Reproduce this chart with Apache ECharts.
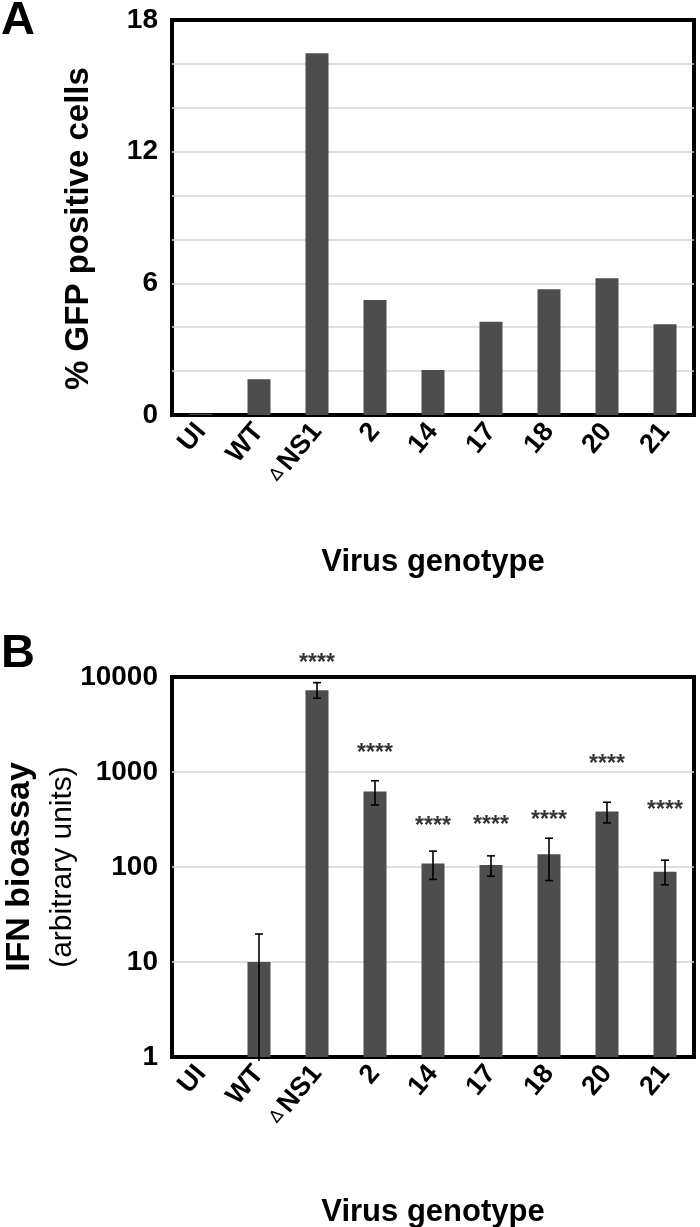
<!DOCTYPE html>
<html><head><meta charset="utf-8">
<script src="https://cdn.jsdelivr.net/npm/echarts@6/dist/echarts.min.js"></script>
<style>html,body{margin:0;padding:0;background:#fff}#c{width:700px;height:1227px}</style>
</head><body><div id="c"></div>
<script>
const categories = ['UI', 'WT', '∆ NS1', '2', '14', '17', '18', '20', '21'];
const gfpValues = [0.05, 1.63, 16.48, 5.24, 2.05, 4.25, 5.73, 6.23, 4.13];
const gfpTicks = [0, 6, 12, 18];
const ifnValues = [null, 10, 7260, 625, 109, 105, 136, 383, 89];
const ifnErrLow = [null, 1, 5980, 450, 74, 80, 72, 291, 65];
const ifnErrHigh = [null, 19.7, 8720, 809, 147, 131, 201, 480, 118];
const starText = [null, null, '****', '****', '****', '****', '****', '****', '****'];
const starPos = [null, null, 13680, 1573, 269, 275, 311, 1199, 395];

const FONT = 'Liberation Sans, Arial, Helvetica, sans-serif';
const BAR = '#4d4d4d';

function catLabel(v) {
  if (v.indexOf('∆') === 0) return '{d|∆}{s| }{b|' + v.slice(2) + '}';
  return '{b|' + v + '}';
}
const xLabelRich = {
  b: {fontFamily: FONT, fontWeight: 'bold', fontSize: 27, color: '#000'},
  s: {fontFamily: FONT, fontWeight: 'bold', fontSize: 14, color: '#000'},
  d: {fontFamily: 'DejaVu Sans', fontWeight: 'normal', fontSize: 17, color: '#000'}
};

function xAxisCfg(gridIndex, gap) {
  return {
    type: 'category', gridIndex: gridIndex, data: categories,
    axisLine: {show: false}, axisTick: {show: false},
    axisLabel: {interval: 0, rotate: 50, margin: 12, formatter: catLabel, rich: xLabelRich},
    name: 'Virus genotype', nameLocation: 'middle', nameGap: gap, nameMoveOverlap: false,
    nameTextStyle: {fontFamily: FONT, fontWeight: 'bold', fontSize: 31, color: '#000'}
  };
}

const errData = [];
const starData = [];
categories.forEach((c, i) => {
  if (ifnErrLow[i] != null) errData.push([i, ifnErrLow[i], ifnErrHigh[i]]);
  if (starText[i]) starData.push([i, starPos[i], starText[i]]);
});

const gridStyle = {show: true, borderColor: '#000', borderWidth: 4, containLabel: false, outerBoundsMode: 'none'};
const splitStyle = {showMinLine: false, showMaxLine: false, lineStyle: {color: '#d4d4d4', width: 1.5}};

const option = {
  animation: false,
  backgroundColor: '#fff',
  graphic: [
    {type: 'text', left: 1, top: -2, style: {text: 'A', font: 'bold 47px ' + FONT, fill: '#000'}},
    {type: 'text', left: 1, top: 631, style: {text: 'B', font: 'bold 47px ' + FONT, fill: '#000'}}
  ],
  grid: [
    Object.assign({left: 172, top: 20, width: 522, height: 395}, gridStyle),
    Object.assign({left: 172, top: 677, width: 522, height: 380}, gridStyle)
  ],
  xAxis: [xAxisCfg(0, 132), xAxisCfg(1, 140)],
  yAxis: [
    {
      type: 'value', gridIndex: 0, min: 0, max: 18, interval: 2,
      axisLine: {show: false}, axisTick: {show: false},
      splitLine: splitStyle,
      axisLabel: {margin: 14, fontFamily: FONT, fontWeight: 'bold', fontSize: 28, color: '#000',
        formatter: v => gfpTicks.indexOf(v) >= 0 ? String(v) : ''},
      name: '% GFP positive cells', nameLocation: 'middle', nameGap: 77, nameRotate: 90,
      nameTextStyle: {fontFamily: FONT, fontWeight: 'bold', fontSize: 33, color: '#000', padding: [0, 22, 0, 0]}
    },
    {
      type: 'log', logBase: 10, gridIndex: 1, min: 1, max: 10000,
      axisLine: {show: false}, axisTick: {show: false}, minorTick: {show: false},
      splitLine: splitStyle,
      axisLabel: {margin: 14, fontFamily: FONT, fontWeight: 'bold', fontSize: 28, color: '#000',
        formatter: v => String(Math.round(v))},
      name: '{a|IFN bioassay}\n{b|(arbitrary units)}', nameLocation: 'middle', nameGap: 89, nameRotate: 90,
      nameMoveOverlap: false,
      nameTextStyle: {
        rich: {
          a: {fontFamily: FONT, fontWeight: 'bold', fontSize: 34, color: '#000', lineHeight: 46, align: 'center'},
          b: {fontFamily: FONT, fontWeight: 'normal', fontSize: 30, color: '#000', lineHeight: 40, align: 'center'}
        }
      }
    }
  ],
  series: [
    {type: 'bar', xAxisIndex: 0, yAxisIndex: 0, data: gfpValues, barWidth: 23,
     itemStyle: {color: BAR}},
    {type: 'bar', xAxisIndex: 1, yAxisIndex: 1, data: ifnValues.map(v => v == null ? '-' : v), barWidth: 23,
     itemStyle: {color: BAR}},
    {type: 'custom', xAxisIndex: 1, yAxisIndex: 1, data: errData, z: 5,
     renderItem: function (params, api) {
       const x = api.value(0), lo = api.value(1), hi = api.value(2);
       const pHi = api.coord([x, hi]);
       const pLo = api.coord([x, lo]);
       const w = 4;
       const st = {stroke: '#000', lineWidth: 1.6};
       const children = [
         {type: 'line', shape: {x1: pHi[0], y1: pHi[1], x2: pLo[0], y2: pLo[1] + (lo > 1 ? 0 : 4)}, style: st},
         {type: 'line', shape: {x1: pHi[0] - w, y1: pHi[1], x2: pHi[0] + w, y2: pHi[1]}, style: st}
       ];
       if (lo > 1) children.push({type: 'line', shape: {x1: pLo[0] - w, y1: pLo[1], x2: pLo[0] + w, y2: pLo[1]}, style: st});
       return {type: 'group', children: children};
     }},
    {type: 'scatter', xAxisIndex: 1, yAxisIndex: 1, data: starData, symbolSize: 2, clip: false, z: 6,
     itemStyle: {color: 'rgba(0,0,0,0)'},
     label: {show: true, position: 'inside', formatter: p => p.value[2],
       fontFamily: FONT, fontSize: 23, color: '#000', fontWeight: 'bold'}}
  ]
};
const chart = echarts.init(document.getElementById('c'), null, {renderer: 'canvas'});
chart.setOption(option);
</script>
</body></html>
